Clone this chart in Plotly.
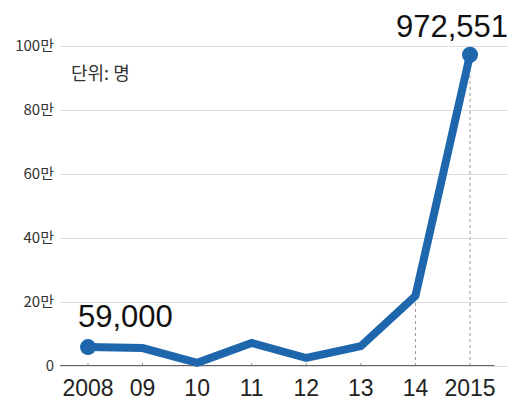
import plotly.graph_objects as go

years = [2008, 2009, 2010, 2011, 2012, 2013, 2014, 2015]
year_labels = ["2008", "09", "10", "11", "12", "13", "14", "2015"]
values = [59000, 56000, 10000, 72000, 25000, 62000, 219000, 972551]
y_ticks = [0, 200000, 400000, 600000, 800000, 1000000]
y_tick_labels = ["0", "20만", "40만", "60만", "80만", "100만"]

line_color = "#1f67ad"
latin = "Liberation Sans, Arial, sans-serif"
kr = "Noto Sans CJK KR, sans-serif"

fig = go.Figure()
fig.add_trace(go.Scatter(
    x=years, y=values, mode="lines",
    line=dict(color=line_color, width=8),
    hoverinfo="skip", showlegend=False,
))
fig.add_trace(go.Scatter(
    x=[years[0], years[-1]], y=[values[0], values[-1]], mode="markers",
    marker=dict(color=line_color, size=16),
    cliponaxis=False, hoverinfo="skip", showlegend=False,
))

shapes = []
shapes.append(dict(type="line", xref="x", yref="y", x0=2015, x1=2015, y0=0, y1=values[-1],
                   line=dict(color="#999999", width=1, dash="dot"), layer="below"))
shapes.append(dict(type="line", xref="x", yref="y", x0=2014, x1=2014, y0=0, y1=values[-2],
                   line=dict(color="#999999", width=1, dash="dot"), layer="below"))
for yr in years[:-2]:
    shapes.append(dict(type="line", xref="x", yref="y", x0=yr, x1=yr, y0=0, y1=18000,
                       line=dict(color="#999999", width=1, dash="dot"), layer="below"))
shapes.append(dict(type="line", xref="x", yref="y", x0=2007.45, x1=2015.45, y0=0, y1=0,
                   line=dict(color="#666666", width=2), layer="below"))
fig.update_layout(shapes=shapes)

fig.add_annotation(x=years[0], y=values[0], text="59,000", showarrow=False,
                   xanchor="left", yanchor="bottom", xshift=-12, yshift=11,
                   font=dict(size=31, color="#111111", family=latin))
fig.add_annotation(x=years[-1], y=values[-1], text="972,551", showarrow=False,
                   xanchor="center", yanchor="bottom", xshift=-18, yshift=9,
                   font=dict(size=31, color="#111111", family=latin))
fig.add_annotation(xref="paper", yref="paper", x=0.02, y=0.905, text="단위: 명",
                   showarrow=False, xanchor="left", yanchor="middle",
                   font=dict(size=18, color="#333333", family=kr))

fig.update_xaxes(
    range=[2007.487, 2015.696], tickmode="array", tickvals=years, ticktext=year_labels,
    showgrid=False, zeroline=False, showline=False, ticks="", automargin=False,
    tickfont=dict(size=23, color="#222222", family=latin),
)
fig.update_yaxes(
    range=[-18750, 1018750], tickmode="array", tickvals=y_ticks, ticktext=y_tick_labels,
    showgrid=True, gridcolor="#dddddd", gridwidth=1, zeroline=False, showline=False, ticks="",
    automargin=False, ticklabelstandoff=5,
    tickfont=dict(size=15, color="#333333", family=kr),
)
fig.update_layout(
    width=518, height=411,
    margin=dict(l=60, r=10, t=40, b=39),
    plot_bgcolor="white", paper_bgcolor="white",
)

fig.write_html("out.html")
